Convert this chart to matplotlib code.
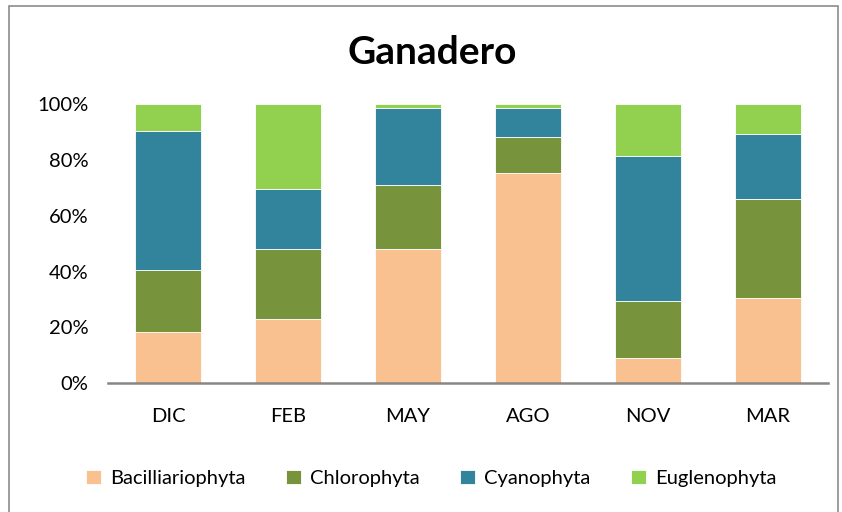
import matplotlib.pyplot as plt
from matplotlib.patches import Rectangle
import numpy as np

months = ["DIC", "FEB", "MAY", "AGO", "NOV", "MAR"]
bacilliariophyta = [18.5, 22.9, 48.2, 75.4, 9.2, 30.6]
chlorophyta = [22.1, 25.4, 22.8, 12.8, 20.2, 35.3]
cyanophyta = [49.9, 21.3, 27.8, 10.6, 52.2, 23.5]
euglenophyta = [9.5, 30.4, 1.2, 1.2, 18.4, 10.6]

series = [("Bacilliariophyta", bacilliariophyta, "#F9C190"),
          ("Chlorophyta", chlorophyta, "#77933C"),
          ("Cyanophyta", cyanophyta, "#31849B"),
          ("Euglenophyta", euglenophyta, "#92D050")]

plt.rcParams['font.family'] = ['Lato', 'DejaVu Sans']

fig = plt.figure(figsize=(8.42, 5.12), dpi=100)
ax = fig.add_axes([0.1283, 0.2514, 0.8551, 0.5449])

x = np.arange(len(months))
bottom = np.zeros(len(months))
for name, vals, col in series:
    v = np.array(vals) / 100.0
    ax.bar(x, v, 0.555, bottom=bottom, color=col, label=name,
           edgecolor="white", linewidth=0.6)
    bottom += v

ax.set_xlim(-0.5, len(months) - 0.5)
ax.set_ylim(0, 1)
ax.set_yticks([0, 0.2, 0.4, 0.6, 0.8, 1.0])
ax.set_yticklabels(["0%", "20%", "40%", "60%", "80%", "100%"], fontsize=14.5)
ax.set_xticks(x)
ax.set_xticklabels(months, fontsize=14.5)
ax.tick_params(axis='both', length=0)
ax.tick_params(axis='y', pad=14)
ax.tick_params(axis='x', pad=18)
for s in ["top", "right", "left"]:
    ax.spines[s].set_visible(False)
ax.spines["bottom"].set_color("#868686")
ax.spines["bottom"].set_linewidth(1.8)

fig.text(0.5137, 0.898, "Ganadero", ha="center", va="center",
         fontsize=28, fontweight="bold")

leg = fig.legend(loc="center", bbox_to_anchor=(0.512, 0.066), ncol=4,
                 frameon=False, fontsize=14.5, handlelength=0.75,
                 handleheight=0.75, handletextpad=0.45, columnspacing=2.0)

fig.patches.append(Rectangle((9 / 842, -0.01), 829 / 842, 1 - 6 / 512 + 0.01,
                             transform=fig.transFigure, fill=False,
                             edgecolor="#8c8c8c", linewidth=1.2))

fig.savefig("out.png", dpi=100)
